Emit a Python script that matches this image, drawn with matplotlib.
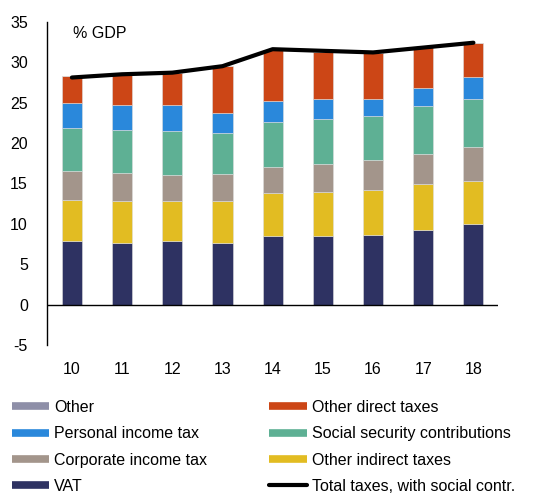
import matplotlib
matplotlib.use("Agg")
import matplotlib.pyplot as plt
from matplotlib.lines import Line2D
import numpy as np

plt.rcParams['font.family'] = ['Liberation Sans', 'DejaVu Sans']
plt.rcParams['axes.unicode_minus'] = False

years = ["10", "11", "12", "13", "14", "15", "16", "17", "18"]

# segment heights per component, stacked from VAT upward
vat = [7.9, 7.7, 7.9, 7.7, 8.45, 8.45, 8.65, 9.25, 10.0]
other_indirect = [5.1, 5.15, 4.9, 5.15, 5.35, 5.5, 5.5, 5.7, 5.3]
corporate = [3.5, 3.5, 3.3, 3.3, 3.3, 3.5, 3.7, 3.75, 4.15]
social_security = [5.35, 5.3, 5.35, 5.05, 5.5, 5.5, 5.5, 5.85, 6.05]
personal = [3.05, 3.1, 3.25, 2.55, 2.55, 2.55, 2.15, 2.3, 2.7]
other_direct = [3.4, 3.65, 3.95, 5.75, 6.35, 5.8, 5.65, 5.0, 4.2]
other = [0, 0, 0, 0, 0, 0, 0, 0, 0]
total_taxes = [28.1, 28.5, 28.7, 29.5, 31.6, 31.4, 31.2, 31.8, 32.4]

c_vat = "#2e3262"
c_indirect = "#e2bc22"
c_corp = "#a3958b"
c_social = "#5eb094"
c_personal = "#2a88db"
c_direct = "#cc4616"
c_other = "#8e8fa8"

fig = plt.figure(figsize=(5.45, 4.93), dpi=100)
ax = fig.add_axes([0.0868, 0.2996, 0.827, 0.6564])

x = np.arange(len(years))
w = 0.4
bottom = np.zeros(len(years))
for vals, col in [(vat, c_vat), (other_indirect, c_indirect), (corporate, c_corp),
                  (social_security, c_social), (personal, c_personal),
                  (other_direct, c_direct), (other, c_other)]:
    ax.bar(x, vals, w, bottom=bottom, color=col, edgecolor="#dddddd", linewidth=0.4, zorder=2)
    bottom += np.array(vals)

ax.plot(x, total_taxes, color="black", lw=3, solid_capstyle="round", zorder=3)
ax.axhline(0, color="black", lw=1, zorder=4)

ax.set_xlim(-0.49, 8.49)
ax.set_ylim(-5, 35)
ax.set_yticks(range(-5, 36, 5))
ax.set_xticks(x)
ax.set_xticklabels(years)
ax.tick_params(axis="both", length=0, labelsize=11.5)
ax.tick_params(axis="x", pad=12)
ax.tick_params(axis="y", pad=14)
for s in ["top", "right", "bottom"]:
    ax.spines[s].set_visible(False)
ax.spines["left"].set_linewidth(1)

ax.text(0.056, 0.965, "% GDP", transform=ax.transAxes, fontsize=11.5, va="center", ha="left")

def patch(c):
    return Line2D([0], [0], color=c, lw=5.5, solid_capstyle="butt")

handles = [patch(c_other), patch(c_personal), patch(c_corp), patch(c_vat),
           patch(c_direct), patch(c_social), patch(c_indirect),
           Line2D([0], [0], color="black", lw=3, solid_capstyle="round")]
labels = ["Other", "Personal income tax", "Corporate income tax", "VAT",
          "Other direct taxes", "Social security contributions", "Other indirect taxes",
          "Total taxes, with social contr."]
fig.legend(handles, labels, ncol=2, loc="upper left", bbox_to_anchor=(0.0215, 0.189),
           frameon=False, fontsize=11.5, handlelength=2.35, handletextpad=0.3,
           columnspacing=3.9, labelspacing=0.71, borderaxespad=0, borderpad=0)

fig.savefig("out.png", dpi=100)
